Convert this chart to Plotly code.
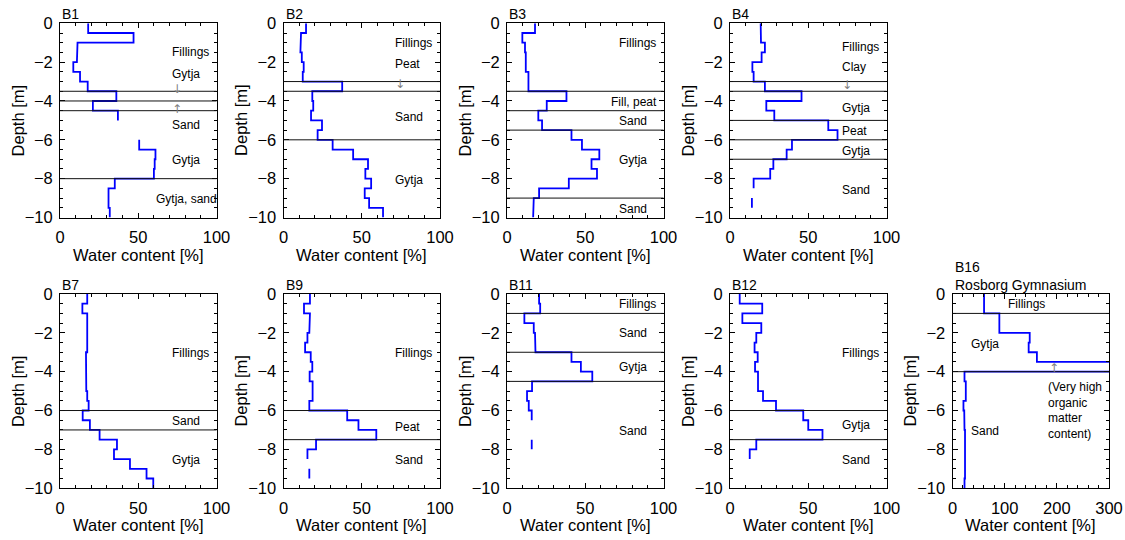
import plotly.graph_objects as go

# ---------------- data ----------------
depth_tops = [0, -0.5, -1, -1.5, -2, -2.5, -3, -3.5, -4, -4.5,
              -5, -5.5, -6, -6.5, -7, -7.5, -8, -8.5, -9, -9.5]
STEP = 0.5

b1_wc = [18, 47, 11.2, 10.8, 8.5, 12.8, 17.7, 36, 21, 37,
         None, None, 50.6, 61, 60.5, 60, 35, 31, 31, 31.8]
b2_wc = [14.4, 11.2, 10.8, 11.7, 12.9, 12.3, 37.5, 18.4, 19, 17.6,
         24.6, 21.8, 31.4, 44.5, 54, 52.3, 56, 51.9, 54.7, 63.6]
b3_wc = [17.9, 9.8, 11.5, 12, 12, 13.7, 13.7, 38, 25.4, 20,
         22.4, 41.2, 47.9, 59, 54, 57.5, 39.5, 20.5, 17.1, 16.7]
b4_wc = [19.6, 19.8, 22.3, 20.2, 14.3, 15.1, 22.3, 45.7, 23.2, 28.3,
         62.8, 68.7, 39.6, 36.2, 27.7, 25.7, 15.1, None, 14, None]
b7_wc = [17.4, 14.3, 17.4, 17.2, 17.0, 17.4, 16.6, 16.4, 16.4, 16.8,
         17.4, 18.3, 14.5, 19.1, 25.3, 36.4, 34.5, 44.7, 55.3, 59.6]
b9_wc = [16.9, 13.1, 16.9, 16.5, 15.3, 13.8, 17.4, 18.4, 16.7, 18.6,
         18.6, 16.5, 40.7, 47.9, 59.3, 20.8, 15.3, None, 16.5, None]
b11_wc = [20.5, 21.2, 11.1, 17.1, 17.9, 18.2, 41.2, 47.2, 54.5, 16,
          12.8, 13.9, 15.8, None, None, 15.8, None, None, None, None]
b12_wc = [6.2, 20.6, 7.9, 20, 16.8, 15.7, 17.7, 16, 17.9, 17.9,
          21.1, 29.4, 46.8, 50, 59.1, 16.8, 12.6, None, None, None]
b16_wc = [60.5, 60.5, 89.8, 89.8, 148, 146, 161.8, 400, 23, 25.5,
          25.5, 21, 22.5, 23, 24, 24, 25, 25, 24, 23]

b1_layers = [-3.5, -4, -4.5, -8]
b2_layers = [-3, -3.5, -6]
b3_layers = [-3.5, -4.5, -5.5, -9]
b4_layers = [-3, -3.5, -5, -6, -7]
b7_layers = [-6, -7]
b9_layers = [-6, -7.5]
b11_layers = [-1, -3, -4.5]
b12_layers = [-6, -7.5]
b16_layers = [-1, -4]

names = ["B1", "B2", "B3", "B4", "B7", "B9", "B11", "B12", "B16<br>Rosborg Gymnasium"]
x_max = [100, 100, 100, 100, 100, 100, 100, 100, 300]
y_ticks = [0, -2, -4, -6, -8, -10]
x_title = "Water content [%]"
y_title = "Depth [m]"

# soil labels: (text, water content, depth)
b1_labels = [("Fillings", 70.5, -1.5), ("Gytja", 70.5, -2.6), ("↓", 70.5, -3.4),
             ("↑", 70.5, -4.4), ("Sand", 70.5, -5.25), ("Gytja", 70.5, -7.05),
             ("Gytja, sand", 60, -9.07)]
b2_labels = [("Fillings", 70, -1.03), ("Peat", 70, -2.11), ("↓", 70, -3.12),
             ("Sand", 70, -4.85), ("Gytja", 70, -8.08)]
b3_labels = [("Fillings", 70.3, -1.03), ("Fill, peat", 65.2, -4.04), ("Sand", 70.3, -5.02),
             ("Gytja", 70.3, -7.04), ("Sand", 70.3, -9.54)]
b4_labels = [("Fillings", 70, -1.24), ("Clay", 70, -2.27), ("↓", 70, -3.18),
             ("Gytja", 70, -4.35), ("Peat", 70, -5.53), ("Gytja", 70, -6.56),
             ("Sand", 70, -8.56)]
b7_labels = [("Fillings", 70.2, -3.05), ("Sand", 70.2, -6.54), ("Gytja", 70.2, -8.54)]
b9_labels = [("Fillings", 70, -3.05), ("Peat", 70, -6.83), ("Sand", 70, -8.54)]
b11_labels = [("Fillings", 70.3, -0.53), ("Sand", 70.3, -2.02), ("Gytja", 70.3, -3.74),
              ("Sand", 70.3, -7.05)]
b12_labels = [("Fillings", 70, -3.05), ("Gytja", 70, -6.74), ("Sand", 70, -8.54)]
b16_labels = [("Fillings", 102.5, -0.53), ("Gytja", 32.5, -2.57), ("↑", 182, -3.8),
              ("(Very high<br>organic<br>matter<br>content)", 180, -6.0),
              ("Sand", 32.5, -7.05)]

all_wc = [b1_wc, b2_wc, b3_wc, b4_wc, b7_wc, b9_wc, b11_wc, b12_wc, b16_wc]
all_layers = [b1_layers, b2_layers, b3_layers, b4_layers, b7_layers, b9_layers,
              b11_layers, b12_layers, b16_layers]
all_labels = [b1_labels, b2_labels, b3_labels, b4_labels, b7_labels, b9_labels,
              b11_labels, b12_labels, b16_labels]

# ---------------- layout geometry (pixels) ----------------
W, H = 1125, 540
FONT = "Arial, 'Liberation Sans', sans-serif"
ARROW_FONT = "'DejaVu Sans', 'Liberation Sans', sans-serif"
col_left = [60, 283.5, 507, 730, 952.5]
panel_w = 156.5
row_top = [23.3, 294]
panel_h = 194.2
positions = [(0, 0), (0, 1), (0, 2), (0, 3), (1, 0), (1, 1), (1, 2), (1, 3), (1, 4)]


def step_profile(tops, vals, step):
    xs, ys = [], []
    for t, v in zip(tops, vals):
        if v is None:
            xs.append(None)
            ys.append(None)
        else:
            xs += [v, v]
            ys += [t, t - step]
    return xs, ys


fig = go.Figure()
layout = dict(width=W, height=H, margin=dict(l=0, r=0, t=0, b=0),
              paper_bgcolor="white", plot_bgcolor="white", showlegend=False,
              font=dict(family=FONT, color="black"), template="none")
shapes, annotations = [], []
tfont = dict(size=16.5, family=FONT, color="black")

for i, (r, c) in enumerate(positions):
    k = "" if i == 0 else str(i + 1)
    xs, ys = step_profile(depth_tops, all_wc[i], STEP)
    fig.add_trace(go.Scatter(x=xs, y=ys, mode="lines", xaxis="x" + k, yaxis="y" + k,
                             line=dict(color="#0000ff", width=1.8), connectgaps=False,
                             hoverinfo="skip"))
    x0 = col_left[c] / W
    x1 = (col_left[c] + panel_w) / W
    y1 = 1 - row_top[r] / H
    y0 = 1 - (row_top[r] + panel_h) / H
    xm = x_max[i]
    layout["xaxis" + k] = dict(
        domain=[x0, x1], anchor="y" + k, range=[0, xm],
        tickvals=[0, xm / 2, xm] if xm == 100 else [0, 100, 200, 300],
        showline=True, linecolor="black", linewidth=1, mirror="ticks",
        ticks="inside", ticklen=5, tickcolor="black", showgrid=False, zeroline=False,
        minor=dict(ticks="inside", ticklen=3, dtick=10 if xm == 100 else 20,
                   tickcolor="black", showgrid=False),
        tickfont=tfont, ticklabelstandoff=5, fixedrange=True)
    layout["yaxis" + k] = dict(
        domain=[y0, y1], anchor="x" + k, range=[-10, 0], tickvals=y_ticks,
        showline=True, linecolor="black", linewidth=1, mirror="ticks",
        ticks="inside", ticklen=5, tickcolor="black", showgrid=False, zeroline=False,
        minor=dict(ticks="inside", ticklen=3, dtick=0.5, tickcolor="black", showgrid=False),
        tickfont=tfont, ticklabelstandoff=3, fixedrange=True)
    # axis titles
    annotations.append(dict(text=x_title, x=0.5, y=0, xref="x" + k + " domain",
                            yref="y" + k + " domain", xanchor="center", yanchor="middle",
                            yshift=-37, showarrow=False, font=tfont))
    annotations.append(dict(text=y_title, x=0, y=0.5, xref="x" + k + " domain",
                            yref="y" + k + " domain", xanchor="center", yanchor="middle",
                            xshift=-42, textangle=-90, showarrow=False, font=tfont))
    for d in all_layers[i]:
        shapes.append(dict(type="line", xref="x" + k + " domain", yref="y" + k,
                           x0=0, x1=1, y0=d, y1=d, line=dict(color="#111111", width=1)))
    for txt, xv, yv in all_labels[i]:
        arrow = txt in ("↓", "↑")
        annotations.append(dict(text=txt, x=xv, y=yv, xref="x" + k, yref="y" + k,
                                xanchor="left", yanchor="middle", showarrow=False,
                                align="left",
                                font=dict(size=12,
                                          family=ARROW_FONT if arrow else FONT,
                                          color="#808080" if arrow else "black")))
    annotations.append(dict(text=names[i], x=0, y=1, xref="x" + k + " domain",
                            yref="y" + k + " domain", xanchor="left", yanchor="bottom",
                            yshift=-1, showarrow=False, align="left",
                            font=dict(size=14, family=FONT, color="black")))

layout["shapes"] = shapes
layout["annotations"] = annotations
fig.update_layout(**layout)
fig.write_html("out.html")
